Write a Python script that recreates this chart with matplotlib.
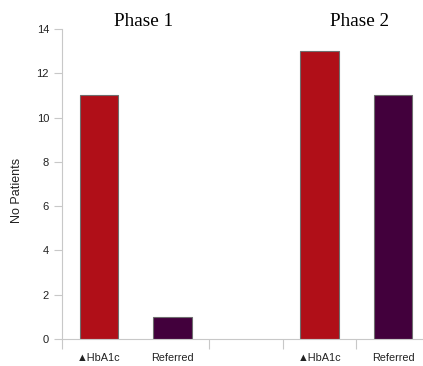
import matplotlib.pyplot as plt
import numpy as np

# bar chart: two phases, HbA1c vs referred
labels = ['\u25b2HbA1c', 'Referred', '', '\u25b2HbA1c', 'Referred']
values = [11, 1, 0, 13, 11]
colors = ['#b00f18', '#42003c', 'none', '#b00f18', '#42003c']
phases = ['Phase 1', 'Phase 2']

fig = plt.figure(figsize=(4.23, 3.66), dpi=100)
W, H = 423, 366
left, bottom, top = 62.25, 339, 29
cat_w = 73.5
ax = fig.add_axes([left / W, 1 - bottom / H, (W - left) / W, (bottom - top) / H])

x = np.arange(len(values))
ax.bar(x, values, width=0.52, color=colors,
       edgecolor=['#6e6e6e', '#6e6e6e', 'none', '#6e6e6e', '#6e6e6e'], linewidth=0.8)

ax.set_xlim(-0.5, -0.5 + (W - left) / cat_w)
ax.set_ylim(0, 14)
ax.set_yticks(range(0, 15, 2))
ax.set_xticks(x)
ax.set_xticklabels(labels, family=['Liberation Sans', 'DejaVu Sans'], fontsize=7.8, color='#222222')
ax.set_xticks([-0.5, 1.5, 2.5, 3.5], minor=True)
ax.tick_params(axis='x', which='major', length=0, pad=10)
ax.tick_params(axis='x', which='minor', length=7, color='#c8c8c8', width=0.8)
ax.tick_params(axis='y', length=6, color='#c8c8c8', width=0.8, labelsize=8, labelcolor='#222222')
for lab in ax.get_yticklabels():
    lab.set_family('Liberation Sans')

for s in ['top', 'right']:
    ax.spines[s].set_visible(False)
for s in ['left', 'bottom']:
    ax.spines[s].set_color('#c8c8c8')
    ax.spines[s].set_linewidth(0.8)

ax.set_ylabel('No Patients', family='Liberation Sans', fontsize=9, color='#222222')
ax.yaxis.set_label_coords((23 - left) / (W - left), (bottom - 190) / (bottom - top))

fig.text(143.5 / W, 1 - 22 / H, phases[0], ha='center', va='center', family='Liberation Serif', fontsize=13.8)
fig.text(359.5 / W, 1 - 22 / H, phases[1], ha='center', va='center', family='Liberation Serif', fontsize=13.8)

fig.savefig('out.png', dpi=100)
